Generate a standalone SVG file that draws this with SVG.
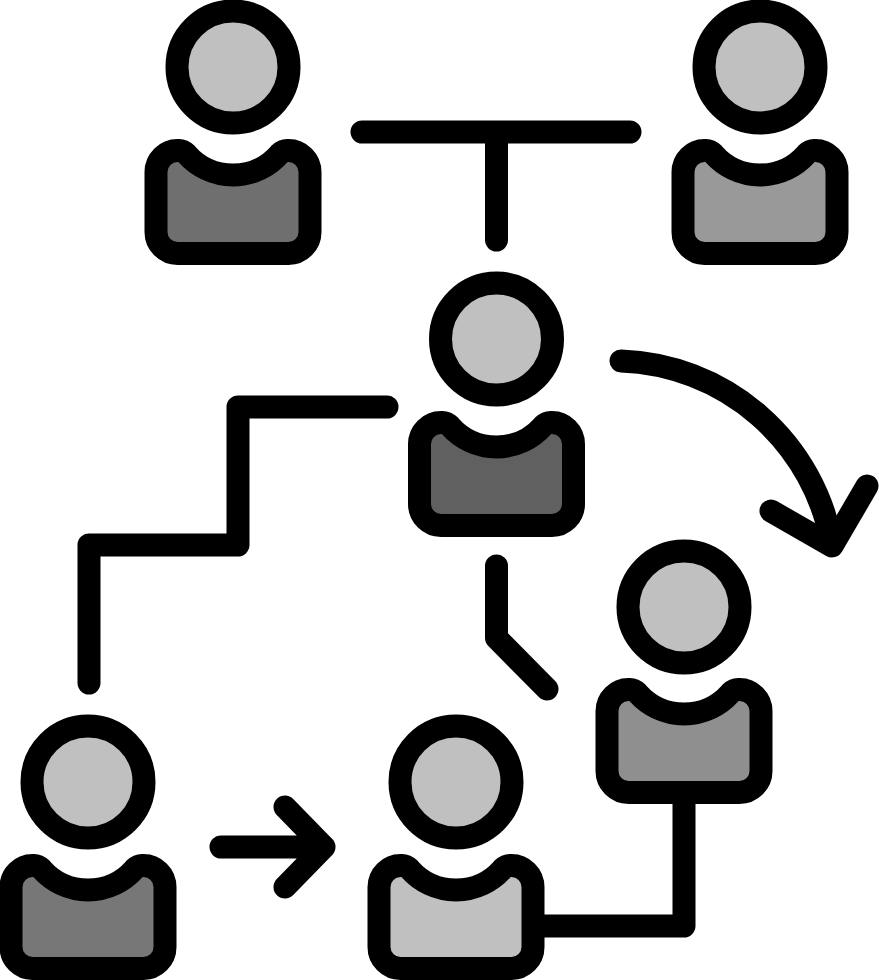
<svg xmlns="http://www.w3.org/2000/svg" width="879" height="980" viewBox="0 0 879 980">
<style>
.s{stroke:#000;stroke-width:23;stroke-linecap:round;stroke-linejoin:round}
.c{fill:none}
.h{fill:#c0c0c0}
</style>
<defs>
<g id="head"><circle class="s h" cx="0" cy="0" r="56"/></g>
<path id="body" class="s" d="M-77 33A21.500 21.500 0 0 1-55.500 11.500H-54Q-50 11.500-46.500 15A62 62 0 0 0 46.500 15Q50 11.500 54 11.500H55.500A21.500 21.500 0 0 1 77 33V93A21.500 21.500 0 0 1 55.500 114.500H-55.500A21.500 21.500 0 0 1-77 93Z"/>
</defs>
<rect width="879" height="980" fill="#fff"/>
<g id="connectors">
<path class="s c" d="M362 132H630M496.500 132V240"/>
<path class="s c" d="M387 407H238V545H89V683"/>
<path class="s c" d="M496.500 566V638L547 689"/>
<path class="s c" d="M535 926H684V795"/>
<path class="s c" d="M621 361A222 222 0 0 1 832 545"/>
<path class="s c" d="M771 511L832 546L867 486"/>
<path class="s c" d="M221 847H324M285 807L324 847L285 887"/>
</g>
<g id="person-1"><use href="#head" x="233" y="67"/><use href="#body" x="233" y="139" fill="#6f6f6f"/></g>
<g id="person-2"><use href="#head" x="760" y="67"/><use href="#body" x="760" y="139" fill="#999999"/></g>
<g id="person-3"><use href="#head" x="496.500" y="339"/><use href="#body" x="496.500" y="411" fill="#606060"/></g>
<g id="person-4"><use href="#head" x="684" y="607"/><use href="#body" x="684" y="678" fill="#8f8f8f"/></g>
<g id="person-5"><use href="#head" x="88" y="782"/><use href="#body" x="88" y="854" fill="#777777"/></g>
<g id="person-6"><use href="#head" x="456" y="782"/><use href="#body" x="456" y="854" fill="#c0c0c0"/></g>
</svg>
